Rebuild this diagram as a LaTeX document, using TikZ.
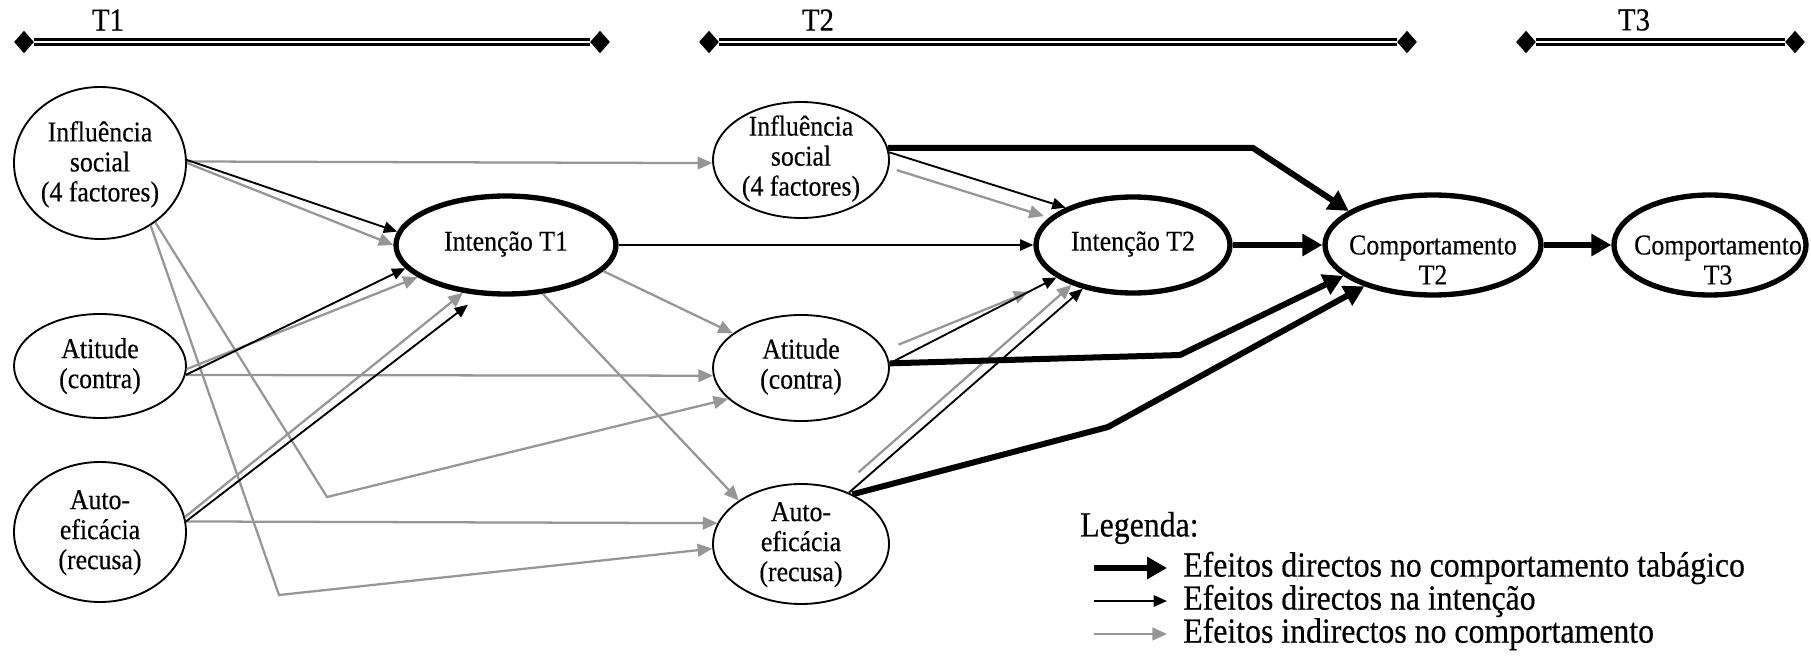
\documentclass[tikz,border=0pt]{standalone}
\usepackage{fontspec}
\setmainfont{Liberation Serif}[FakeStretch=0.9,FakeBold=0.4]
\usetikzlibrary{arrows.meta,shapes.geometric,calc}
\definecolor{arrgray}{RGB}{150,150,150}
\newcommand{\ctext}[2][-4.9pt]{\raisebox{#1}[0pt][0pt]{\makebox[0pt]{\begin{tabular}{@{}c@{}}#2\end{tabular}}}}
\begin{document}
\begin{tikzpicture}[x=0.75pt,y=-0.75pt,
  nodefont/.style={font=\fontsize{21.5}{22.5}\selectfont},
  thinell/.style={ellipse,draw,line width=1.4pt,inner sep=0pt,nodefont},
  thickell/.style={ellipse,draw,line width=4pt,inner sep=0pt,nodefont},
  sz/.style 2 args={minimum width={#1*0.75pt},minimum height={#2*0.75pt}},
  garr/.style={color=arrgray,line width=1.7pt,-{Triangle[length=11pt,width=9.5pt]}},
  barr/.style={color=black,line width=1.4pt,-{Triangle[length=10pt,width=8.5pt]}},
  karr/.style={color=black,line width=4.5pt,-{Triangle[length=15pt,width=16pt]}},
  tbar/.style={line width=1.8pt,double=white,double distance=1.8pt},
  tmark/.style={diamond,fill=black,inner sep=0pt,minimum width=15pt,minimum height=17pt},
  tlabel/.style={font=\fontsize{24}{26}\selectfont,inner sep=0pt},
  legtext/.style={anchor=west,inner sep=0pt,font=\fontsize{26.5}{28}\selectfont},
]
\useasboundingbox (0,0) rectangle (1811,656);

% timeline
\node[tmark] (a1) at (24,42) {};
\node[tmark] (b1) at (600,42) {};
\node[tmark] (a2) at (709,42) {};
\node[tmark] (b2) at (1407,42) {};
\node[tmark] (a3) at (1526,42) {};
\node[tmark] (b3) at (1795,42) {};
\draw[tbar] (a1) -- (b1);
\draw[tbar] (a2) -- (b2);
\draw[tbar] (a3) -- (b3);
\node[tlabel] (t1) at (108,20) {T1};
\node[tlabel] (t2) at (818,20) {T2};
\node[tlabel] (t3) at (1634,20) {T3};

% nodes
\node[thinell,sz={172}{152}] (is1) at (100,163) {\ctext[-7pt]{Influência\\social\\(4 factores)}};
\node[thinell,sz={172}{104}] (at1) at (100,366) {\ctext[-6pt]{Atitude\\(contra)}};
\node[thinell,sz={172}{140}] (au1) at (100,532) {\ctext[-6pt]{Auto-\\eficácia\\(recusa)}};
\node[thickell,sz={220}{98}] (it1) at (506,245) {\ctext{Intenção T1}};
\node[thinell,sz={176}{116}] (is2) at (801,160) {\ctext{Influência\\social\\(4 factores)}};
\node[thinell,sz={176}{106}] (at2) at (801,368) {\ctext{Atitude\\(contra)}};
\node[thinell,sz={176}{120}] (au2) at (801,544) {\ctext[-6pt]{Auto-\\eficácia\\(recusa)}};
\node[thickell,sz={194}{96}] (it2) at (1133,245) {\ctext{Intenção T2}};
\node[thickell,sz={216}{100}] (ct2) at (1433,245) {\ctext[-19pt]{Comportamento\\T2}};
\node[thickell,sz={192}{100}] (ct3) at (1710,245) {\hspace*{12pt}\ctext[-19pt]{Comportamento\\T3}};

% bend points
\coordinate (bend1) at (327,497);
\coordinate (bend2) at (279,595);
\coordinate (it1b) at ($(it1.south)+(-38,8)$);
\coordinate (kb1) at (1253,148);
\coordinate (kb2) at (1180,355);
\coordinate (kb3) at (1108,427);

% indirect effects (gray)
\draw[garr] (is1.1) -- (is2.182);
\draw[garr] (is1.0) -- (it1.180);
\draw[garr] (at1.358) -- (it1.200);
\draw[garr] (au1.10) -- (it1.228);
\draw[garr] (at1.354) -- (at2.185);
\draw[garr] (au1.7) -- (au2.166);
\draw[garr] (is1.313) -- (bend1) -- (at2.203);
\draw[garr] (is1.309) -- (bend2) -- (au2.183);
\draw[garr] (it1.345) -- (at2.153);
\draw[garr] (it1.307) -- (au2.145);
\draw[garr,shorten <=6pt,shorten >=4pt] (is2.-5) -- (it2.162);
\draw[garr,shorten <=11pt,shorten >=25pt] (at2.12) -- (it2.205);
\draw[garr,shorten <=19pt] (au2.55) -- (it2.213);

% direct effects on intention (black)
\draw[barr] (is1.2) -- (it1.173);
\draw[barr] (at1.354) -- (it1.193);
\draw[barr] (au1.7) -- (it1b);
\draw[barr] (it1.east) -- (it2.west);
\draw[barr] (is2.5) -- (it2.151);
\draw[barr] (at2.3) -- (it2.203);
\draw[barr] (au2.47) -- (it2.221);

% direct effects on behaviour (thick)
\draw[karr] (is2.8) -- (kb1) -- (ct2.158);
\draw[karr] (it2.east) -- (ct2.west);
\draw[karr] (at2.3) -- (kb2) -- (ct2.199);
\draw[karr] (au2.44) -- (kb3) -- (ct2.211);
\draw[karr] (ct2.east) -- (ct3.west);

% legend
\node[legtext] (leg) at (1080,528) {Legenda:};
\node[legtext] (lt1) at (1183,568) {Efeitos directos no comportamento tabágico};
\node[legtext] (lt2) at (1183,601) {Efeitos directos na intenção};
\node[legtext] (lt3) at (1183,634) {Efeitos indirectos no comportamento};
\coordinate (ls1) at (1094,568);
\coordinate (ls2) at (1094,601);
\coordinate (ls3) at (1094,634);
\draw[karr,shorten >=12pt] (ls1) -- (lt1.west);
\draw[barr,shorten >=12pt] (ls2) -- (lt2.west);
\draw[garr,shorten >=12pt] (ls3) -- (lt3.west);
\end{tikzpicture}
\end{document}
